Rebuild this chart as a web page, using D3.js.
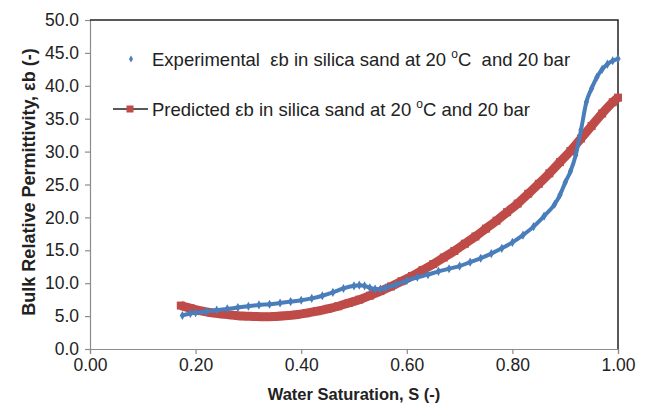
<!DOCTYPE html>
<html>
<head>
<meta charset="utf-8">
<script src="https://cdn.jsdelivr.net/npm/d3@7"></script>
<style>
    body { margin: 0; background: #fff; }
    text { font-family: "Liberation Sans", Arial, sans-serif; fill: #222; }
</style>
</head>
<body>
<div id="chart"></div>
<script>

// Experimental bulk permittivity (blue)
let expSat = [0.175, 0.19, 0.20, 0.22, 0.24, 0.26, 0.28, 0.30, 0.32, 0.34, 0.36, 0.38, 0.40, 0.42, 0.44, 0.46, 0.48, 0.50, 0.51, 0.52, 0.53, 0.54, 0.55, 0.56, 0.58, 0.60, 0.62, 0.64, 0.66, 0.68, 0.70, 0.72, 0.74, 0.76, 0.78, 0.80, 0.82, 0.84, 0.86, 0.88, 0.89, 0.90, 0.91, 0.92, 0.93, 0.94, 0.95, 0.96, 0.97, 0.98, 0.99, 1.00];
let expEb  = [5.1, 5.4, 5.5, 5.7, 5.9, 6.1, 6.3, 6.5, 6.7, 6.8, 7.0, 7.2, 7.4, 7.7, 8.1, 8.6, 9.2, 9.6, 9.7, 9.6, 9.3, 9.1, 9.1, 9.3, 9.8, 10.4, 10.9, 11.3, 11.8, 12.2, 12.6, 13.2, 13.8, 14.5, 15.3, 16.2, 17.3, 18.6, 20.2, 22.0, 23.4, 25.3, 27.0, 29.5, 33.3, 37.5, 39.6, 41.3, 42.5, 43.3, 43.8, 44.1];

// Predicted bulk permittivity (red)
let predSat = [0.172, 0.19, 0.21, 0.23, 0.25, 0.27, 0.29, 0.31, 0.33, 0.35, 0.37, 0.39, 0.41, 0.43, 0.45, 0.47, 0.49, 0.51, 0.53, 0.55, 0.57, 0.59, 0.61, 0.63, 0.65, 0.67, 0.69, 0.71, 0.73, 0.75, 0.77, 0.79, 0.81, 0.83, 0.85, 0.87, 0.89, 0.91, 0.93, 0.95, 0.97, 0.99, 1.00];
let predEb  = [6.6, 6.2, 5.8, 5.5, 5.3, 5.15, 5.0, 4.95, 4.9, 4.95, 5.05, 5.2, 5.45, 5.75, 6.1, 6.5, 7.0, 7.5, 8.1, 8.8, 9.5, 10.3, 11.1, 12.0, 12.9, 13.9, 14.9, 16.0, 17.1, 18.3, 19.5, 20.8, 22.1, 23.6, 25.1, 26.7, 28.4, 30.1, 32.0, 33.9, 35.8, 37.5, 38.2];

let xTicks = [0, 0.2, 0.4, 0.6, 0.8, 1.0];
let yTicks = [0, 5, 10, 15, 20, 25, 30, 35, 40, 45, 50];

let expLabel = "Experimental  \u03b5b in silica sand at 20 ";
let predLabel = "Predicted \u03b5b in silica sand at 20 ";

let blue = "#4a7ebb", red = "#be4b48";

let margin = { top: 20, right: 33, bottom: 62, left: 90 };
let width = 651 - margin.left - margin.right,
    height = 411 - margin.top - margin.bottom;

let svg = d3.select("#chart").append("svg")
    .attr("width", 651)
    .attr("height", 411)
    .append("g")
    .attr("transform", "translate(" + margin.left + "," + margin.top + ")");

let x = d3.scaleLinear().domain([0, 1]).range([0, width]);
let y = d3.scaleLinear().domain([0, 50]).range([height, 0]);

// Axes
let xAxis = svg.append("g")
    .attr("transform", "translate(0," + height + ")")
    .call(d3.axisBottom(x).tickValues(xTicks).tickFormat(d3.format(".2f")).tickSizeOuter(0).tickSize(5).tickPadding(5));

let yAxis = svg.append("g")
    .call(d3.axisLeft(y).tickValues(yTicks).tickFormat(d3.format(".1f")).tickSizeOuter(0).tickSize(5).tickPadding(6));

[xAxis, yAxis].forEach(a => {
    a.selectAll("path, line").attr("stroke", "#8c8c8c").attr("stroke-width", 1.2);
    a.selectAll("text").attr("font-size", 17.5).attr("fill", "#333")
        .attr("font-family", "'Liberation Sans', Arial, sans-serif");
});

// dark border on top and right
svg.append("path")
    .attr("d", "M0,0H" + width + "V" + height)
    .attr("fill", "none")
    .attr("stroke", "#222")
    .attr("stroke-width", 1.5);

// Axis titles
svg.append("text")
    .attr("x", width / 2)
    .attr("y", height + 51)
    .attr("text-anchor", "middle")
    .attr("font-size", 16.5)
    .attr("font-weight", "bold")
    .text("Water Saturation, S (-)");

svg.append("text")
    .attr("transform", "translate(" + (-55) + "," + (height / 2 - 2.5) + ") rotate(-90)")
    .attr("text-anchor", "middle")
    .attr("font-size", 18)
    .attr("font-weight", "bold")
    .text("Bulk Relative Permittivity, \u03b5b (-)");

// Series
let expData = expSat.map((s, i) => ({ s: s, v: expEb[i] }));
let predData = predSat.map((s, i) => ({ s: s, v: predEb[i] }));

let line = d3.line().x(d => x(d.s)).y(d => y(d.v)).curve(d3.curveMonotoneX);

svg.append("path")
    .datum(predData)
    .attr("d", line)
    .attr("fill", "none")
    .attr("stroke", red)
    .attr("stroke-width", 9);

svg.selectAll(".pred")
    .data(predData)
    .enter().append("rect")
    .attr("class", "pred")
    .attr("x", d => x(d.s) - 4)
    .attr("y", d => y(d.v) - 4)
    .attr("width", 8)
    .attr("height", 8)
    .attr("fill", red);

svg.append("path")
    .datum(expData)
    .attr("d", line)
    .attr("fill", "none")
    .attr("stroke", blue)
    .attr("stroke-width", 4);

let diamond = d3.symbol().type(d3.symbolDiamond).size(24);

svg.selectAll(".exp")
    .data(expData)
    .enter().append("path")
    .attr("class", "exp")
    .attr("transform", d => "translate(" + x(d.s) + "," + y(d.v) + ")")
    .attr("d", diamond)
    .attr("fill", blue);

// Legend
let legend = svg.append("g");

legend.append("path")
    .attr("transform", "translate(41,39)")
    .attr("d", d3.symbol().type(d3.symbolDiamond).size(14))
    .attr("fill", blue);

let t1 = legend.append("text")
    .attr("x", 62)
    .attr("y", 46)
    .attr("font-size", 18.5)
    .style("white-space", "pre");
t1.append("tspan").text(expLabel);
t1.append("tspan").attr("font-size", 12).attr("dy", -8).text("o");
t1.append("tspan").attr("dy", 8).text("C  and 20 bar");

legend.append("line")
    .attr("x1", 23).attr("x2", 58)
    .attr("y1", 89).attr("y2", 89)
    .attr("stroke", "#222")
    .attr("stroke-width", 1.5);

legend.append("rect")
    .attr("x", 36.5).attr("y", 85.5)
    .attr("width", 7).attr("height", 7)
    .attr("fill", red);

let t2 = legend.append("text")
    .attr("x", 62)
    .attr("y", 96)
    .attr("font-size", 18.5)
    .style("white-space", "pre");
t2.append("tspan").text(predLabel);
t2.append("tspan").attr("font-size", 12).attr("dy", -8).text("o");
t2.append("tspan").attr("dy", 8).text("C and 20 bar");

</script>
</body>
</html>
